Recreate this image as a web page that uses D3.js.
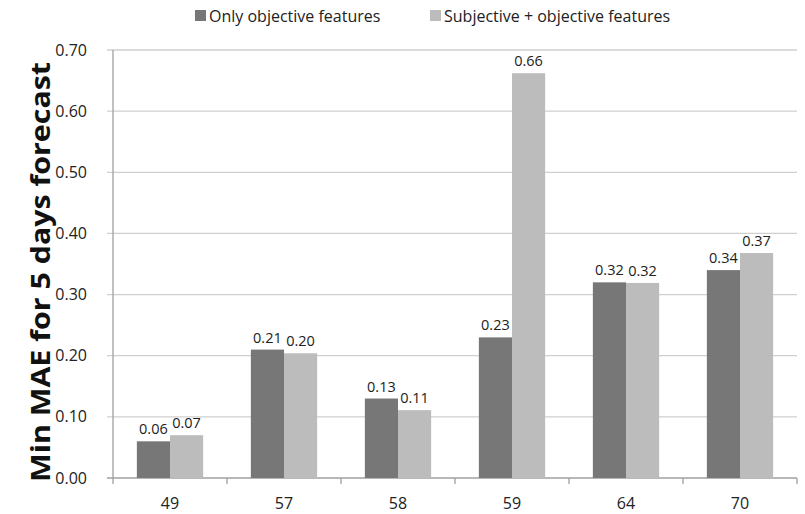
<!DOCTYPE html>
<html><head><meta charset="utf-8">
<script src="https://cdn.jsdelivr.net/npm/d3@7"></script>
<style>body{margin:0;background:#fff}svg{display:block}text{font-family:"Open Sans",Lato,sans-serif}</style>
</head><body><svg id="c" width="805" height="514"></svg>
<script>
const categories = ["49","57","58","59","64","70"];
const seriesNames = ["Only objective features","Subjective + objective features"];
const onlyObjective = [0.06,0.21,0.13,0.23,0.32,0.34];
const subjObjective = [0.07,0.204,0.111,0.662,0.319,0.368];
const yTicks = [0,0.1,0.2,0.3,0.4,0.5,0.6,0.7];
const colors = ["#777777","#bcbcbc"];

const svg = d3.select("#c");
const m = {l:113, r:797, t:50, b:478};
const x0 = d3.scaleBand().domain(categories).range([m.l, m.r]).padding(0);
const x1 = d3.scaleBand().domain([0,1]).range([0, x0.bandwidth()]).paddingInner(0).paddingOuter(0.72);
const y = d3.scaleLinear().domain([0,0.7]).range([m.b, m.t]);

// grid
svg.append("g").selectAll("line").data(yTicks).join("line")
  .attr("x1", m.l-6).attr("x2", m.r).attr("y1", d=>y(d)).attr("y2", d=>y(d))
  .attr("stroke", d=>d===0?"#a0a0a0":"#cfcfcf").attr("stroke-width",1.3);
// y axis line
svg.append("line").attr("x1",m.l).attr("x2",m.l).attr("y1",m.t).attr("y2",m.b)
  .attr("stroke","#a0a0a0").attr("stroke-width",1.3);
// y tick labels
svg.append("g").selectAll("text").data(yTicks).join("text")
  .attr("x", m.l-26).attr("y", d=>y(d)).attr("dy","0.35em").attr("text-anchor","end")
  .attr("font-size",16).attr("fill","#222").text(d=>d.toFixed(2));
// x ticks
const bounds = categories.map(c=>x0(c)).concat([m.r]);
svg.append("g").selectAll("line").data(bounds).join("line")
  .attr("x1",d=>d).attr("x2",d=>d).attr("y1",m.b).attr("y2",m.b+6)
  .attr("stroke","#a0a0a0").attr("stroke-width",1.3);
svg.append("g").selectAll("text").data(categories).join("text")
  .attr("x", d=>x0(d)+x0.bandwidth()/2).attr("y", 509).attr("text-anchor","middle")
  .attr("font-size",16).attr("fill","#222").text(d=>d);

// bars
const data = categories.map((c,i)=>({c, v:[onlyObjective[i], subjObjective[i]]}));
const g = svg.append("g").selectAll("g").data(data).join("g")
  .attr("transform", d=>`translate(${x0(d.c)},0)`);
g.selectAll("rect").data(d=>d.v.map((v,k)=>({v,k}))).join("rect")
  .attr("x", d=>x1(d.k)).attr("width", x1.bandwidth())
  .attr("y", d=>y(d.v)).attr("height", d=>y(0)-y(d.v)).attr("fill", d=>colors[d.k]);
g.selectAll("text").data(d=>d.v.map((v,k)=>({v,k}))).join("text")
  .attr("x", d=>x1(d.k)+x1.bandwidth()/2).attr("y", d=>y(d.v)-7).attr("text-anchor","middle")
  .attr("font-size",14.5).attr("fill","#222").text(d=>d.v.toFixed(2));

// legend
const leg = [{x:195},{x:430}];
seriesNames.forEach((s,i)=>{
  svg.append("rect").attr("x",leg[i].x).attr("y",10).attr("width",11).attr("height",11).attr("fill",colors[i]);
  svg.append("text").attr("x",leg[i].x+14).attr("y",21.5).attr("font-size",16).attr("fill","#222").text(s);
});

// y label
svg.append("text").attr("transform","translate(50,272) rotate(-90)").attr("text-anchor","middle")
  .attr("font-size",27).attr("font-weight","bold").attr("fill","#111")
  .attr("textLength",420).attr("lengthAdjust","spacingAndGlyphs").text("Min MAE for 5 days forecast");
</script></body></html>
